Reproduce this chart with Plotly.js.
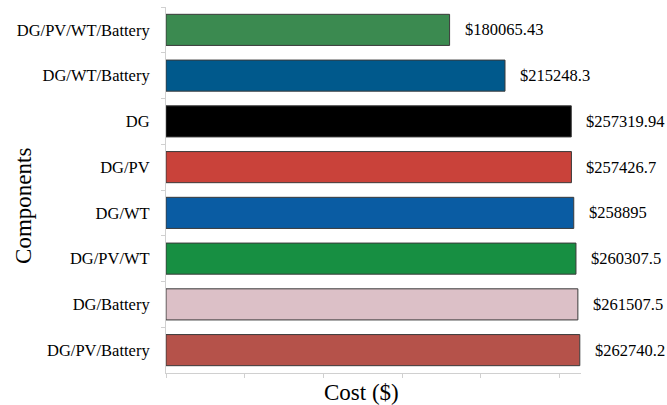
<!DOCTYPE html>
<html>
<head>
<meta charset="utf-8">
<script src="https://cdn.plot.ly/plotly-3.0.1.min.js"></script>
<style>html,body{margin:0;padding:0;background:#fff;}#chart{width:667px;height:405px;}</style>
</head>
<body>
<div id="chart"></div>
<script>
const categories = ["DG/PV/WT/Battery","DG/WT/Battery","DG","DG/PV","DG/WT","DG/PV/WT","DG/Battery","DG/PV/Battery"];
const costs = [180065.43, 215248.3, 257319.94, 257426.7, 258895, 260307.5, 261507.5, 262740.2];
const costLabels = ["$180065.43","$215248.3","$257319.94","$257426.7","$258895","$260307.5","$261507.5","$262740.2"];
const barColors = ["#3b8a50","#00598c","#000000","#c9423a","#0a5ca3","#178f42","#dcc0c7","#b5524a"];
const xTitle = "Cost ($)";
const yTitle = "Components";

const font = "'Liberation Serif', 'Times New Roman', Times, serif";

const trace = {
  type: "bar",
  orientation: "h",
  x: costs,
  y: categories,
  marker: {color: barColors, line: {color: "#3a3a3a", width: 1}},
  width: 0.68,
  hoverinfo: "skip"
};

const annotations = categories.map((c, i) => ({
  x: costs[i], y: c, xref: "x", yref: "y",
  text: costLabels[i], showarrow: false,
  xanchor: "left", yanchor: "middle", xshift: 13,
  font: {family: font, size: 16.5, color: "#000"}
}));
annotations.push({
  xref: "paper", yref: "paper", x: 0.472, y: -0.052,
  xanchor: "center", yanchor: "middle", showarrow: false,
  text: xTitle, font: {family: font, size: 23, color: "#000"}
});
annotations.push({
  xref: "paper", yref: "paper", x: -0.345, y: 0.456,
  xanchor: "center", yanchor: "middle", showarrow: false, textangle: -90,
  text: yTitle, font: {family: font, size: 23, color: "#000"}
});

const layout = {
  width: 667, height: 405,
  margin: {l: 166, r: 86, t: 7, b: 32},
  paper_bgcolor: "#fff", plot_bgcolor: "#fff",
  showlegend: false,
  font: {family: font, color: "#000"},
  xaxis: {
    range: [0, 263500],
    showgrid: false, zeroline: false,
    showline: true, linecolor: "#d0d0d0", linewidth: 1,
    ticks: "outside", ticklen: 4, tickcolor: "#d0d0d0",
    dtick: 50000, tick0: 0,
    showticklabels: false
  },
  yaxis: {
    type: "category",
    autorange: "reversed",
    showgrid: false, zeroline: false,
    showline: true, linecolor: "#d0d0d0", linewidth: 1,
    ticks: "outside", ticklen: 4, tickcolor: "#d0d0d0",
    tickson: "boundaries",
    ticklabelstandoff: 12,
    tickfont: {family: font, size: 16.5, color: "#000"}
  },
  annotations: annotations
};

Plotly.newPlot("chart", [trace], layout, {displayModeBar: false, staticPlot: true});
</script>
</body>
</html>
